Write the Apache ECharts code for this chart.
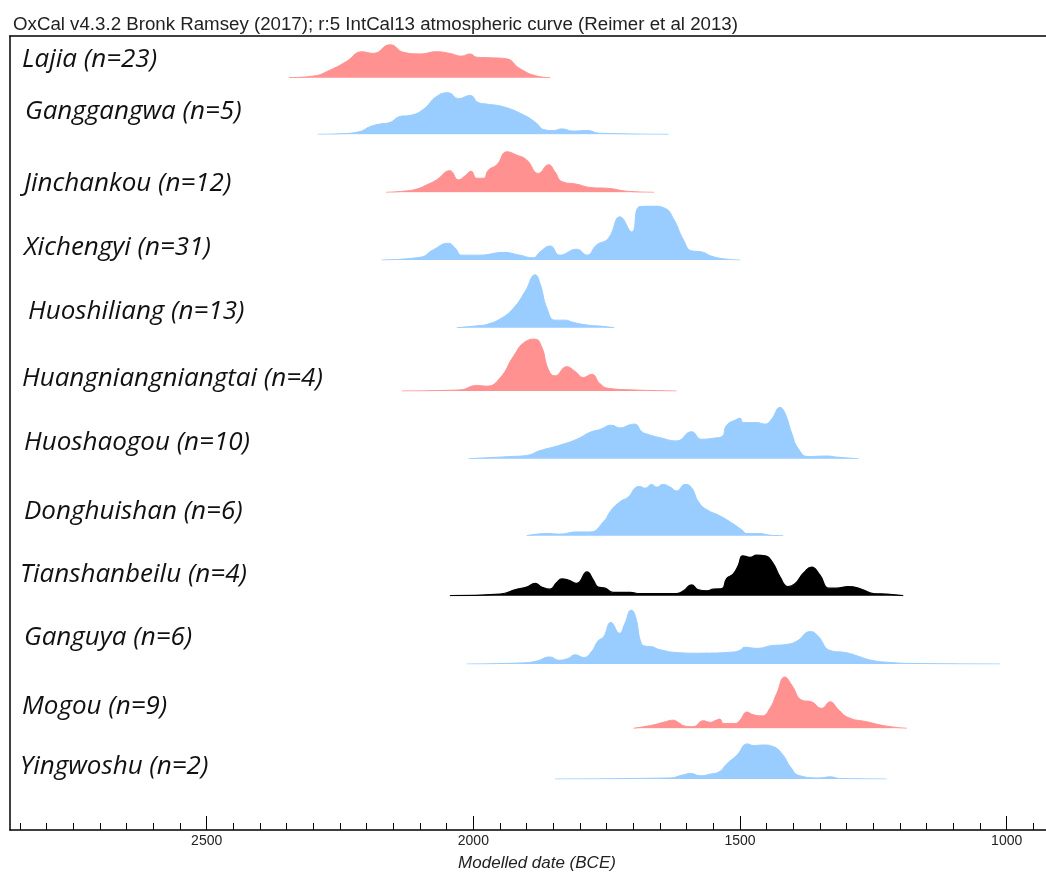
<!DOCTYPE html>
<html>
<head>
<meta charset="utf-8">
<script src="https://cdn.jsdelivr.net/npm/echarts@6/dist/echarts.min.js"></script>
<style>
html,body{margin:0;padding:0;background:#fff;}
#chart{width:1046px;height:873px;}
</style>
</head>
<body>
<div id="chart"></div>
<script>
// ---- data (years BCE, relative probability 0-100) ----
const siteNames = ['Lajia','Ganggangwa','Jinchankou','Xichengyi','Huoshiliang','Huangniangniangtai','Huoshaogou','Donghuishan','Tianshanbeilu','Ganguya','Mogou','Yingwoshu'];
const siteN = [23,5,12,31,13,4,10,6,4,6,9,2];
const siteGroup = ['r','b','r','b','b','r','b','b','k','b','r','b'];

const lajia = [[2346,0],[2300,3],[2269,14],[2238,30],[2209,48],[2188,45],[2156,61],[2131,47],[2100,44],[2069,48],[2044,45],[2022,40],[2006,44],[1994,38],[1969,37],[1938,35],[1913,17],[1881,3],[1856,0]];
const ganggangwa = [[2292,0],[2250,1],[2213,5],[2194,14],[2175,19],[2156,22],[2138,33],[2119,35],[2094,46],[2069,70],[2047,77],[2028,66],[2006,72],[1991,59],[1975,56],[1944,51],[1906,36],[1881,20],[1869,9],[1850,7],[1834,10],[1813,6],[1787,7],[1763,2],[1634,0]];
const jinchankou = [[2164,0],[2131,2],[2106,6],[2087,14],[2069,23],[2044,40],[2028,23],[2016,30],[2004,39],[1994,26],[1981,26],[1972,41],[1956,51],[1937,75],[1919,69],[1900,60],[1878,35],[1859,51],[1847,38],[1834,20],[1806,15],[1781,9],[1744,7],[1712,2],[1661,0]];
const xichengyi = [[2172,0],[2100,5],[2075,19],[2047,31],[2034,22],[2022,9],[1988,9],[1944,14],[1913,9],[1888,4],[1875,15],[1856,26],[1838,9],[1806,20],[1787,9],[1769,28],[1747,40],[1725,80],[1703,52],[1688,99],[1663,100],[1641,96],[1625,77],[1606,37],[1591,17],[1572,15],[1550,6],[1519,1],[1500,0]];
const huoshiliang = [[2031,0],[1988,4],[1975,6],[1950,16],[1925,36],[1903,67],[1884,98],[1875,82],[1862,36],[1847,14],[1828,14],[1813,10],[1787,5],[1763,3],[1736,0]];
const huangniangniangtai = [[2134,0],[2025,2],[1994,10],[1975,9],[1950,24],[1925,64],[1903,91],[1884,96],[1872,82],[1859,39],[1847,28],[1825,45],[1809,36],[1794,25],[1778,31],[1763,14],[1747,5],[1700,2],[1619,0]];
const huoshaogou = [[2009,0],[1931,4],[1900,6],[1875,15],[1838,25],[1806,36],[1781,49],[1763,54],[1741,62],[1725,57],[1706,63],[1697,64],[1684,50],[1672,45],[1650,39],[1619,33],[1591,50],[1572,36],[1550,38],[1534,41],[1525,62],[1506,73],[1500,75],[1494,67],[1469,67],[1453,64],[1441,73],[1425,95],[1416,85],[1403,47],[1391,19],[1372,4],[1337,5],[1319,3],[1278,0]];
const donghuishan = [[1900,0],[1862,4],[1838,3],[1806,7],[1781,7],[1756,26],[1741,48],[1725,63],[1709,72],[1697,88],[1688,91],[1678,88],[1666,95],[1656,90],[1645,95],[1631,90],[1619,83],[1603,95],[1591,89],[1578,63],[1562,48],[1538,37],[1513,22],[1497,11],[1487,4],[1463,4],[1444,1],[1419,0]];
const tianshanbeilu = [[2044,0],[1950,3],[1919,12],[1900,16],[1884,23],[1872,16],[1856,12],[1844,24],[1834,31],[1822,29],[1806,23],[1787,44],[1775,29],[1766,16],[1753,14],[1738,6],[1706,6],[1688,4],[1619,4],[1606,9],[1591,20],[1578,11],[1562,9],[1550,12],[1534,13],[1525,32],[1513,40],[1503,57],[1495,74],[1481,71],[1469,75],[1453,74],[1438,60],[1425,35],[1410,17],[1397,22],[1381,42],[1366,53],[1350,38],[1334,14],[1319,14],[1297,17],[1272,12],[1250,4],[1225,3],[1194,0]];
const ganguya = [[2012,0],[1910,2],[1883,5],[1856,13],[1840,7],[1823,10],[1809,17],[1793,12],[1779,22],[1766,43],[1756,50],[1742,77],[1726,57],[1716,75],[1704,100],[1696,88],[1685,38],[1676,33],[1665,32],[1652,27],[1615,21],[1575,20],[1515,22],[1501,25],[1491,31],[1468,29],[1441,34],[1414,36],[1394,42],[1368,60],[1354,52],[1331,25],[1301,21],[1280,15],[1254,7],[1220,3],[1173,1],[1013,0]];
const mogou = [[1700,0],[1663,6],[1644,11],[1625,15],[1616,11],[1603,4],[1588,3],[1569,14],[1556,11],[1547,14],[1538,17],[1531,9],[1509,9],[1500,15],[1487,30],[1475,25],[1459,23],[1444,37],[1431,65],[1416,95],[1403,80],[1384,52],[1366,49],[1347,37],[1331,49],[1316,35],[1297,20],[1262,12],[1225,4],[1187,0]];
const yingwoshu = [[1847,0],[1631,2],[1609,7],[1592,10],[1575,6],[1556,9],[1538,14],[1525,28],[1506,44],[1486,65],[1475,62],[1456,63],[1438,60],[1419,44],[1406,23],[1388,6],[1350,2],[1331,4],[1313,1],[1225,0]];

const siteData = [lajia,ganggangwa,jinchankou,xichengyi,huoshiliang,huangniangniangtai,huoshaogou,donghuishan,tianshanbeilu,ganguya,mogou,yingwoshu];

const majorTicks = [2500,2000,1500,1000];
const axisTitle = 'Modelled date (BCE)';
const headerText = 'OxCal v4.3.2 Bronk Ramsey (2017); r:5 IntCal13 atmospheric curve (Reimer et al 2013)';

// ---- layout ----
const X_MIN = 926.3, X_MAX = 2868.8;
const baselines = [77.7,134.3,192.3,260,327.7,391,458.7,535.7,595.7,664,728.3,779];
const labelY = [60,112,184,248,312,379,443,512,575,638,707,767];
const labelX = [22,25,24,24,28,22,24,24,20,24,22,20];
const ROW_H = 54;
const fillColors = {r:'#ff9191', b:'#99ccff', k:'#000000'};
const lineColors = {r:'#ff9191', b:'#99ccff', k:'#000000'};

const minorTicks = [];
for (let y = 950; y <= 2850; y += 50) if (majorTicks.indexOf(y) < 0) minorTicks.push(y);

const grids = [{left:10, right:0, top:36, bottom:43, outerBoundsMode:'none', containLabel:false}];
const xAxes = [
  {gridIndex:0, type:'value', min:X_MIN, max:X_MAX, inverse:true, position:'bottom',
   axisLine:{show:true, lineStyle:{color:'#000', width:1.5}},
   axisTick:{show:true, inside:true, length:14, customValues:majorTicks, lineStyle:{color:'#000', width:1}},
   axisLabel:{show:true, customValues:majorTicks, formatter:v=>String(v), fontSize:14, color:'#222', fontFamily:'Liberation Sans', margin:4},
   splitLine:{show:false},
   name:axisTitle, nameLocation:'middle', nameGap:25,
   nameTextStyle:{fontStyle:'italic', fontSize:17, color:'#222', fontFamily:'Liberation Sans', padding:[0,0,0,18]}},
  {gridIndex:0, type:'value', min:X_MIN, max:X_MAX, inverse:true, position:'bottom',
   axisLine:{show:false},
   axisTick:{show:true, inside:true, length:7, customValues:minorTicks, lineStyle:{color:'#000', width:1}},
   axisLabel:{show:false}, splitLine:{show:false}},
  {gridIndex:0, type:'value', min:X_MIN, max:X_MAX, inverse:true, position:'top',
   axisLine:{show:true, lineStyle:{color:'#000', width:1.5}},
   axisTick:{show:false}, axisLabel:{show:false}, splitLine:{show:false}}
];
const yAxes = [
  {gridIndex:0, type:'value', min:0, max:1, axisLine:{show:true, lineStyle:{color:'#000', width:1.5}},
   axisTick:{show:false}, axisLabel:{show:false}, splitLine:{show:false}}
];
const series = [];
const graphics = [];

siteData.forEach((d, i) => {
  const gi = i + 1;
  grids.push({left:10, right:0, top:baselines[i] - ROW_H, height:ROW_H, outerBoundsMode:'none'});
  xAxes.push({gridIndex:gi, type:'value', min:X_MIN, max:X_MAX, inverse:true, show:false});
  yAxes.push({gridIndex:gi, type:'value', min:0, max:100, show:false});
  const g = siteGroup[i];
  series.push({
    name: siteNames[i], type:'line', xAxisIndex:3 + i, yAxisIndex:gi,
    data:d, showSymbol:false, smooth:0.5, silent:true,
    lineStyle:{color:lineColors[g], width:g === 'k' ? 1.2 : 1},
    areaStyle:{color:fillColors[g], opacity:1},
    z:2
  });
  graphics.push({
    type:'text', x:labelX[i], y:labelY[i],
    style:{text: siteNames[i] + ' (n=' + siteN[i] + ')', font:'italic 26px "Open Sans"', fill:'#111', align:'left', verticalAlign:'middle'}
  });
});

const chart = echarts.init(document.getElementById('chart'), null, {renderer:'canvas'});
chart.setOption({
  animation:false,
  backgroundColor:'#fff',
  title:{text:headerText, left:8, top:10, textStyle:{fontFamily:'Liberation Sans', fontSize:18.7, fontWeight:'normal', color:'#222'}},
  grid:grids, xAxis:xAxes, yAxis:yAxes, series:series, graphic:graphics
});
</script>
</body>
</html>
